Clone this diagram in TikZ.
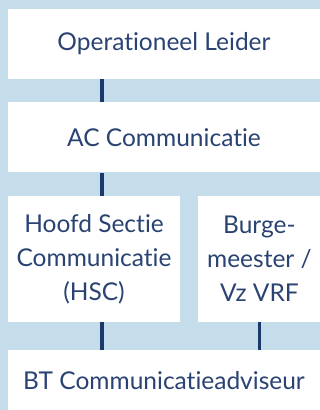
\documentclass[tikz,border=0pt]{standalone}
\usepackage{fontspec}
\setmainfont{Lato}[Ligatures={NoCommon,NoRare}]
\usetikzlibrary{positioning}
\definecolor{bgblue}{HTML}{C5DCEA}
\definecolor{navy}{HTML}{1B3A6B}
\definecolor{textblue}{HTML}{2A4372}
\tikzstyle{block} = [rectangle, fill=white, text=textblue, align=center,
    inner sep=0pt, font=\fontsize{24.5}{34}\selectfont]
\tikzstyle{link} = [draw=navy, line width=3.5pt]

\begin{document}
\begin{tikzpicture}[x=1pt, y=1pt]
	\fill[bgblue] (0,0) rectangle (320,-410);
	\useasboundingbox (0,0) rectangle (320,-410);
	\node [block, minimum width=312pt, minimum height=70pt] (op) at (164,-44) {Operationeel Leider};
	\node [block, minimum width=312pt, minimum height=70pt, below=23pt of op] (ac) {AC Communicatie};
	\node [block, minimum width=172pt, minimum height=126pt, below=23pt of ac.south west, anchor=north west] (hsc) {Hoofd Sectie\\Communicatie\\(HSC)};
	\node [block, minimum width=122pt, minimum height=126pt, right=18pt of hsc.north east, anchor=north west] (burg) {Burge-\\meester /\\Vz VRF};
	\node [block, minimum width=312pt, minimum height=61pt, below=28pt of hsc.south west, anchor=north west] (bt) {BT Communicatieadviseur};

        \draw[link] ([xshift=94pt]op.south west) -- ([xshift=94pt]ac.north west);
        \draw[link] ([xshift=94pt]ac.south west) -- ([xshift=94pt]hsc.north west);
        \draw[link] ([xshift=94pt]hsc.south west) -- ([xshift=94pt]bt.north west);
        \draw[link] (burg.south) -- (burg.south |- bt.north);
\end{tikzpicture}
\end{document}
